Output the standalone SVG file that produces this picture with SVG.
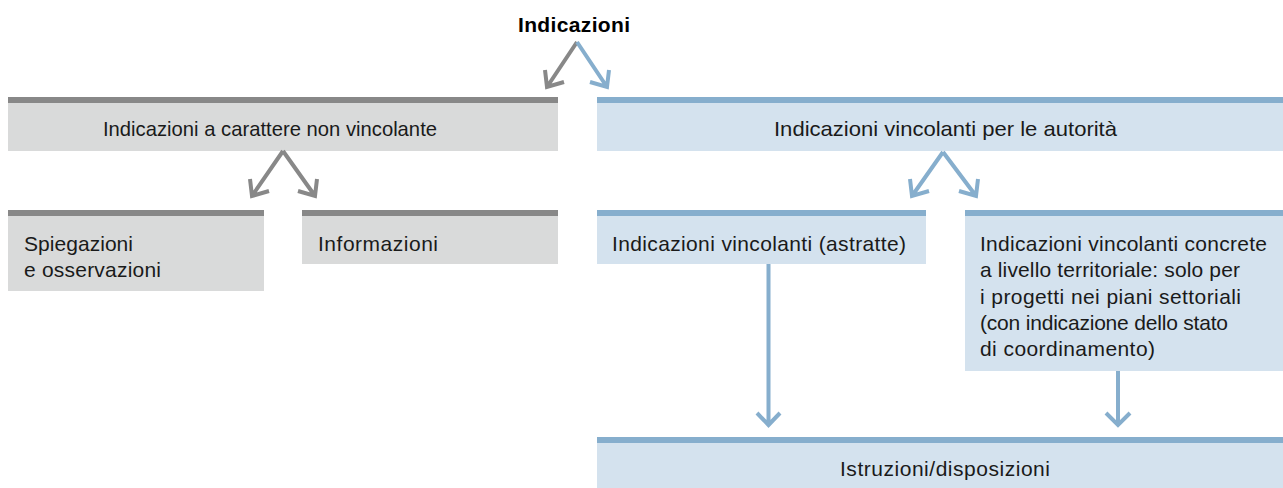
<svg xmlns="http://www.w3.org/2000/svg" width="1283" height="488" viewBox="0 0 1283 488">
  <style>
    .t { font-family: "Liberation Sans", Arial, sans-serif; font-size: 21px; fill: #1a1a1a; }
    .title { font-weight: bold; font-size: 21px; fill: #000; }
    .gfill { fill: #d9dada; }
    .gbar { fill: #888888; }
    .bfill { fill: #d4e2ee; }
    .bbar { fill: #86aecd; }
    .gline { fill: none; stroke: #888888; stroke-width: 4; }
    .bline { fill: none; stroke: #86aecd; stroke-width: 4; }
  </style>

  <text id="title" class="t title" x="574" y="32" text-anchor="middle" textLength="112">Indicazioni</text>

  <g id="node-nonbinding">
    <rect class="gfill" x="8" y="97" width="550" height="54"/>
    <rect class="gbar" x="8" y="97" width="550" height="6"/>
    <text class="t" x="103" y="136" textLength="334" lengthAdjust="spacingAndGlyphs">Indicazioni a carattere non vincolante</text>
  </g>

  <g id="node-binding">
    <rect class="bfill" x="597" y="97" width="686" height="54"/>
    <rect class="bbar" x="597" y="97" width="686" height="6"/>
    <text class="t" x="774" y="136" textLength="343" lengthAdjust="spacingAndGlyphs">Indicazioni vincolanti per le autorità</text>
  </g>

  <g id="node-explanations">
    <rect class="gfill" x="8" y="210" width="256" height="81"/>
    <rect class="gbar" x="8" y="210" width="256" height="6"/>
    <text class="t" x="24" y="251" textLength="109">Spiegazioni</text>
    <text class="t" x="24" y="277" textLength="137">e osservazioni</text>
  </g>

  <g id="node-information">
    <rect class="gfill" x="302" y="210" width="256" height="54"/>
    <rect class="gbar" x="302" y="210" width="256" height="6"/>
    <text class="t" x="318" y="251" textLength="120">Informazioni</text>
  </g>

  <g id="node-abstract">
    <rect class="bfill" x="597" y="210" width="329" height="54"/>
    <rect class="bbar" x="597" y="210" width="329" height="6"/>
    <text class="t" x="612" y="251" textLength="294">Indicazioni vincolanti (astratte)</text>
  </g>

  <g id="node-concrete">
    <rect class="bfill" x="965" y="210" width="318" height="161"/>
    <rect class="bbar" x="965" y="210" width="318" height="6"/>
    <text class="t" x="980" y="251" textLength="287">Indicazioni vincolanti concrete</text>
    <text class="t" x="980" y="277" textLength="260">a livello territoriale: solo per</text>
    <text class="t" x="980" y="304" textLength="261">i progetti nei piani settoriali</text>
    <text class="t" x="980" y="330" textLength="248">(con indicazione dello stato</text>
    <text class="t" x="980" y="356" textLength="175">di coordinamento)</text>
  </g>

  <g id="node-instructions">
    <rect class="bfill" x="597" y="437" width="686" height="51"/>
    <rect class="bbar" x="597" y="437" width="686" height="6"/>
    <text class="t" x="840" y="476" textLength="210">Istruzioni/disposizioni</text>
  </g>

  <g id="connectors">
    <!-- title split -->
    <path class="gline" d="M577,42 L547,87 M545,70 L547,87 L564,82"/>
    <path class="bline" d="M577,42 L607,87 M609,70 L607,87 L590,82"/>
    <!-- non-binding split -->
    <path class="gline" d="M283,151 L252,196 M250,179 L252,196 L269,191"/>
    <path class="gline" d="M283,151 L315,196 M317,179 L315,196 L298,191"/>
    <!-- binding split -->
    <path class="bline" d="M943,152 L912,196 M910,179 L912,196 L929,191"/>
    <path class="bline" d="M943,152 L976,196 M978,179 L976,196 L959,191"/>
    <!-- down to instructions -->
    <path class="bline" d="M768.5,264 L768.5,425 M757,413 L768.5,425 L780,413"/>
    <path class="bline" d="M1118,371 L1118,425 M1106,413 L1118,425 L1130,413"/>
  </g>
</svg>
